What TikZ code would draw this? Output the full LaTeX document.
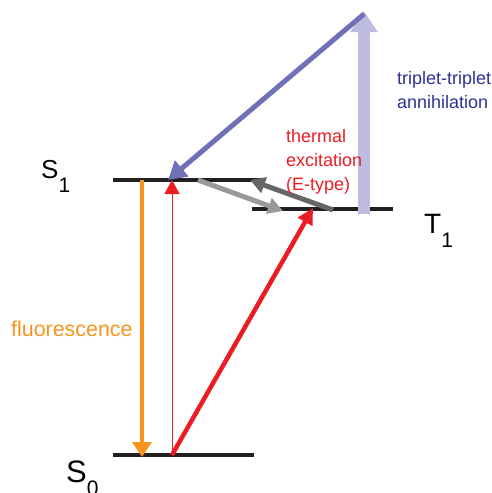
\documentclass[tikz,border=0pt]{standalone}
\usepackage{fontspec}
\setmainfont{Liberation Sans}
\usetikzlibrary{arrows.meta}
\definecolor{fluo}{RGB}{247,148,29}
\definecolor{thermred}{RGB}{237,28,36}
\definecolor{ttaline}{RGB}{112,112,184}
\definecolor{ttabar}{RGB}{190,187,224}
\definecolor{ttatext}{RGB}{46,49,146}
\definecolor{lightgrey}{RGB}{153,153,153}
\definecolor{darkgrey}{RGB}{102,102,102}
\definecolor{levelblack}{RGB}{35,31,32}

\begin{document}
\begin{tikzpicture}[x=1pt,y=1pt,yscale=-1,
  level/.style={draw=levelblack,line width=4pt},
  tri/.style 2 args={-{Triangle[length=#1pt,width=#2pt]}},
  lbl/.style={anchor=base west,inner sep=0pt},
  note/.style={anchor=base west,inner sep=0pt,align=left,font=\fontsize{18}{24}\selectfont}]
\useasboundingbox (0,0) rectangle (492,493);

%Levels
\coordinate (s1l) at (113,179.5);
\coordinate (s1r) at (262,179.5);
\coordinate (t1l) at (252,209);
\coordinate (t1r) at (393,209);
\coordinate (s0l) at (113,455);
\coordinate (s0r) at (254,455);
\draw [level] (s1l) -- (s1r);
\draw [level] (t1l) -- (t1r);
\draw [level] (s0l) -- (s0r);

%Points on the levels
\coordinate (fluoA) at (142,179.5);
\coordinate (fluoB) at (142,457);
\coordinate (absA) at (172,455);
\coordinate (absB) at (172,180);
\coordinate (exB) at (313,208);
\coordinate (ttaA) at (364,214);
\coordinate (ttaB) at (364,11);
\coordinate (ttaC) at (364,14);
\coordinate (ttaD) at (168,180);
\coordinate (iscA) at (198,180);
\coordinate (iscB) at (283,211);
\coordinate (retA) at (333,210);
\coordinate (retB) at (250,180);

%Straight Lines
\draw [fluo,line width=4pt,tri={15}{19}] (fluoA) -- (fluoB);
\draw [thermred,line width=1pt,tri={14}{15}] (absA) -- (absB);
\draw [thermred,line width=4.5pt,tri={16}{16}] (absA) -- (exB);
\draw [ttabar,line width=12pt,tri={21}{26}] (ttaA) -- (ttaB);
\draw [ttaline,line width=5pt,tri={18}{20}] (ttaC) -- (ttaD);
\draw [lightgrey,line width=5pt,tri={15}{16}] (iscA) -- (iscB);
\draw [darkgrey,line width=5pt,tri={15}{16}] (retA) -- (retB);

% Text Node
\node [lbl] (s1) at (41,178) {\fontsize{26}{26}\selectfont S\raisebox{-14pt}{\fontsize{21}{21}\selectfont 1}};
% Text Node
\node [lbl] (t1) at (424,233) {\fontsize{28}{28}\selectfont T\raisebox{-14pt}{\fontsize{21}{21}\selectfont 1}};
% Text Node
\node [lbl] (s0) at (66,482) {\fontsize{31}{31}\selectfont S\raisebox{-13pt}{\fontsize{21}{21}\selectfont 0}};
% Text Node
\node [lbl,text=fluo] (fl) at (11,336) {\fontsize{21.4}{24}\selectfont fluorescence};
% Text Node
\node [note,text=thermred] (th) at (286,190) {thermal\\excitation\\(E-type)};
% Text Node
\node [note,text=ttatext] (an) at (397,108) {triplet-triplet\\annihilation};

\end{tikzpicture}
\end{document}
